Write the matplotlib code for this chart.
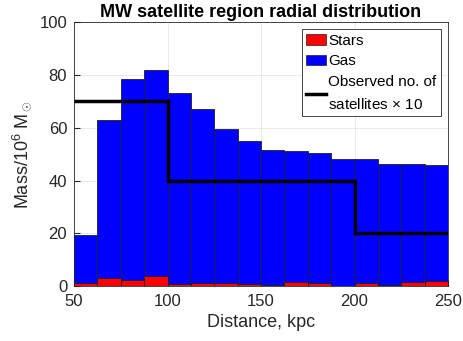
import numpy as np
import matplotlib
matplotlib.use("Agg")
import matplotlib.pyplot as plt
import matplotlib.patches as mpatches
from matplotlib.lines import Line2D

plt.rcParams['font.family'] = ['Liberation Sans', 'DejaVu Sans']
plt.rcParams['mathtext.fontset'] = 'custom'
plt.rcParams['mathtext.rm'] = 'Liberation Sans'
plt.rcParams['mathtext.it'] = 'Liberation Sans:italic'

#Bin left edges (kpc) and masses (10^6 Msun)
bin_left = np.arange(50, 250, 12.5)
total = [19.2, 62.8, 78.3, 81.8, 73.3, 67.0, 59.7, 55.0, 51.7, 51.2, 50.3, 48.0, 48.0, 46.1, 46.4, 46.0]
stars = [1.0, 2.9, 2.3, 3.8, 0.9, 1.1, 1.1, 0.9, 0.6, 1.6, 1.1, 0.1, 1.1, 0.6, 1.6, 2.1]
gas = [t - s for t, s in zip(total, stars)]

#Observed satellites x10 (step edges)
obs_edges = [50, 100, 200, 250]
obs_vals = [70, 40, 20]

fig = plt.figure(figsize=(4.63, 3.41), dpi=100)
ax = fig.add_axes([0.16, 0.161, 0.8076, 0.774])

ax.bar(bin_left, stars, width=12.5, align='edge', color='#ff0000', edgecolor='#202020', linewidth=0.6, zorder=3)
ax.bar(bin_left, gas, width=12.5, bottom=stars, align='edge', color='#0000ff', edgecolor='#202020', linewidth=0.6, zorder=3)
ax.stairs(obs_vals, obs_edges, baseline=None, color='black', linewidth=2.5, zorder=4)

ax.set_xlim(50, 250)
ax.set_ylim(0, 100)
ax.set_xticks([50, 100, 150, 200, 250])
ax.set_yticks([0, 20, 40, 60, 80, 100])
ax.grid(True, color='#e6e6e6', linewidth=0.6, zorder=0)
ax.set_axisbelow(True)
ax.tick_params(labelsize=12, direction='in', length=4, color='#262626', labelcolor='#262626')
ax.tick_params(axis='x', pad=6)
ax.tick_params(axis='y', pad=5)
for sp in ax.spines.values():
    sp.set_color('#262626')
    sp.set_linewidth(0.6)

ax.set_xlabel('Distance, kpc', fontsize=13, color='#262626', labelpad=3)
ax.set_ylabel(r'Mass/10$^6$ M$_\odot$', fontsize=13, color='#262626')
ax.set_title('MW satellite region radial distribution', fontsize=13, fontweight='bold', pad=4)

handles = [mpatches.Patch(facecolor='#ff0000', edgecolor='#202020', linewidth=0.5),
           mpatches.Patch(facecolor='#0000ff', edgecolor='#202020', linewidth=0.5),
           Line2D([], [], color='black', linewidth=2.5)]
leg = ax.legend(handles, ['Stars', 'Gas', 'Observed no. of\nsatellites $\\times$ 10'],
                loc='upper right', fontsize=11, fancybox=False, framealpha=1,
                edgecolor='#262626', handlelength=1.3, handletextpad=0.15,
                borderpad=0.3, labelspacing=0.45, borderaxespad=0.45)
leg.get_frame().set_linewidth(0.6)
for t in leg.get_texts():
    t.set_linespacing(1.6)

plt.savefig('out.png', dpi=100)
